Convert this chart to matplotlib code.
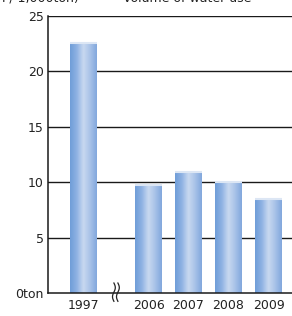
import numpy as np
import matplotlib.pyplot as plt
from matplotlib.colors import LinearSegmentedColormap

years = ["1997", "2006", "2007", "2008", "2009"]
positions = [0, 1.625, 2.625, 3.625, 4.625]
values = [22.6, 9.75, 10.9, 10.0, 8.5]
yticks = [0, 5, 10, 15, 20, 25]
ylabels = ["0ton", "5", "10", "15", "20", "25"]

fig = plt.figure(figsize=(2.92, 3.16), dpi=100)
ax = fig.add_axes([48 / 292, 1 - 293 / 316, 244 / 292, 277 / 316])

ax.set_xlim(-0.8875, 5.2125)
ax.set_ylim(0, 25)

for y in yticks[1:]:
    ax.axhline(y, color="#1a1a1a", lw=1.0, zorder=1)

cmap = LinearSegmentedColormap.from_list(
    "bar", ["#6f9dd8", "#8fb2e3", "#c9d9f0", "#a8c2e8", "#82a8dd"])
grad = np.linspace(0, 1, 64).reshape(1, -1)
w = 0.675
for x, v in zip(positions, values):
    rect = plt.Rectangle((x - w / 2, 0), w, v, facecolor="none", edgecolor="none", zorder=2)
    ax.add_patch(rect)
    im = ax.imshow(grad, cmap=cmap, extent=(x - w / 2, x + w / 2, 0, v),
                   aspect="auto", zorder=2, interpolation="bicubic")
    im.set_clip_path(rect)
    ax.plot([x - w / 2, x + w / 2], [v, v], color="#dce6f4", lw=1.5, zorder=3,
            solid_capstyle="butt")

ax.set_xticks(positions)
ax.set_xticklabels(years)
ax.set_yticks(yticks)
ax.set_yticklabels(ylabels)
ax.tick_params(length=0, labelsize=9, colors="#222222", pad=4)
ax.tick_params(axis="y", pad=3)
for s in ["top", "right"]:
    ax.spines[s].set_visible(False)
for s in ["left", "bottom"]:
    ax.spines[s].set_linewidth(1.1)
    ax.spines[s].set_color("#1a1a1a")

# axis break mark
t = np.linspace(0, 1, 30)
for dx in [0, 0.1]:
    xs = 0.76 + dx + 0.035 * np.sin(t * 2 * np.pi)
    ys = 0.9 - t * 1.65
    ax.plot(xs, ys, color="#222222", lw=0.9, clip_on=False, zorder=5)

fig.text(-0.02, 1.005, "in / 1,000ton)", fontsize=9, color="#222222", va="center", ha="left")
fig.text(0.42, 1.005, "Volume of water use", fontsize=9, color="#222222", va="center", ha="left")

fig.savefig("out.png", dpi=100)
